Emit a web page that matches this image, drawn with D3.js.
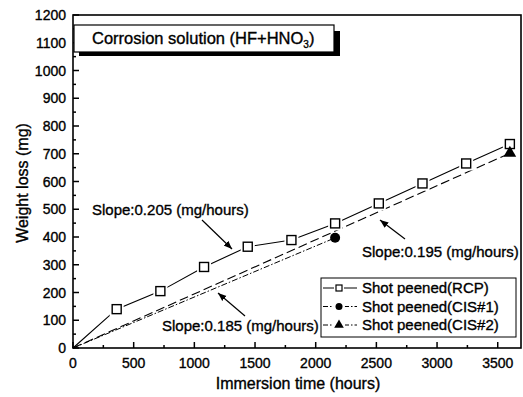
<!DOCTYPE html>
<html>
<head>
<meta charset="utf-8">
<script src="https://cdn.jsdelivr.net/npm/d3@7"></script>
<style>
  body { margin: 0; background: #fff; }
  text { font-family: "Liberation Sans", Arial, sans-serif; fill: #000; stroke: #000; stroke-width: 0.35px; }
</style>
</head>
<body>
<svg id="chart" width="523" height="397"></svg>
<script>
// data
var rcpHours = [0, 360, 720, 1080, 1440, 1800, 2160, 2520, 2880, 3240, 3600];
var rcpLoss  = [0, 140, 205, 292, 365, 389, 449, 521, 593, 665, 735];
var cis1Hours = [0, 2160];
var cis1Loss  = [0, 397];
var cis2Hours = [0, 3600];
var cis2Loss  = [0, 702];

var xTicks = [0, 500, 1000, 1500, 2000, 2500, 3000, 3500];
var yTicks = [0, 100, 200, 300, 400, 500, 600, 700, 800, 900, 1000, 1100, 1200];

var legendNames = ["Shot peened(RCP)", "Shot peened(CIS#1)", "Shot peened(CIS#2)"];
var slopeLabels = ["Slope:0.205 (mg/hours)", "Slope:0.185 (mg/hours)", "Slope:0.195 (mg/hours)"];

var svg = d3.select("#chart");

var x = d3.scaleLinear().domain([0, 3700]).range([73, 522]);
var y = d3.scaleLinear().domain([0, 1200]).range([348, 15]);

function zip(a, b) {
    return a.map(function(v, i) { return {x: v, y: b[i]}; });
}
var rcp = zip(rcpHours, rcpLoss);
var cis1 = zip(cis1Hours, cis1Loss);
var cis2 = zip(cis2Hours, cis2Loss);

var line = d3.line()
    .x(function(d) { return x(d.x); })
    .y(function(d) { return y(d.y); });

// arrow head
svg.append("defs").append("marker")
    .attr("id", "arr")
    .attr("viewBox", "0 0 10 10")
    .attr("refX", 10).attr("refY", 5)
    .attr("markerWidth", 7).attr("markerHeight", 7)
    .attr("orient", "auto")
    .append("path")
    .attr("d", "M0,1 L10,5 L0,9 Z")
    .attr("fill", "#000");

// minor ticks
var xMinor = d3.range(250, 3700, 500);
var yMinor = d3.range(50, 1200, 100);

svg.append("g").selectAll("line.xm")
    .data(xTicks.concat(xMinor))
    .enter().append("line")
    .attr("x1", function(d) { return x(d); })
    .attr("x2", function(d) { return x(d); })
    .attr("y1", y(0))
    .attr("y2", function(d) { return y(0) - (d % 500 == 0 ? 6 : 3); })
    .attr("stroke", "#000").attr("stroke-width", 1.5);

svg.append("g").selectAll("line.ym")
    .data(yTicks.concat(yMinor))
    .enter().append("line")
    .attr("y1", function(d) { return y(d); })
    .attr("y2", function(d) { return y(d); })
    .attr("x1", x(0))
    .attr("x2", function(d) { return x(0) + (d % 100 == 0 ? 6 : 3); })
    .attr("stroke", "#000").attr("stroke-width", 1.5);

// tick labels
svg.append("g").selectAll("text")
    .data(xTicks)
    .enter().append("text")
    .attr("x", function(d) { return x(d); })
    .attr("y", 368)
    .attr("text-anchor", "middle")
    .style("font-size", "14px")
    .text(function(d) { return d; });

svg.append("g").selectAll("text")
    .data(yTicks)
    .enter().append("text")
    .attr("x", 66)
    .attr("y", function(d) { return y(d) + 5; })
    .attr("text-anchor", "end")
    .style("font-size", "14px")
    .text(function(d) { return d; });

// frame
svg.append("rect")
    .attr("x", x(0)).attr("y", y(1200))
    .attr("width", x(3700) - x(0) - 1)
    .attr("height", y(0) - y(1200))
    .attr("fill", "none")
    .attr("stroke", "#000").attr("stroke-width", 1.6);

// series lines
svg.append("path").datum(rcp)
    .attr("d", line).attr("fill", "none")
    .attr("stroke", "#000").attr("stroke-width", 1.1);
svg.append("path").datum(cis1)
    .attr("d", line).attr("fill", "none")
    .attr("stroke", "#000").attr("stroke-width", 1)
    .attr("stroke-dasharray", "6,2,1.5,2");
svg.append("path").datum(cis2)
    .attr("d", line).attr("fill", "none")
    .attr("stroke", "#000").attr("stroke-width", 1.1)
    .attr("stroke-dasharray", "9,4");

// markers with a white gap round them
var sq = svg.append("g").selectAll("g")
    .data(rcp.slice(1))
    .enter().append("g")
    .attr("transform", function(d) { return "translate(" + x(d.x) + "," + y(d.y) + ")"; });
sq.append("rect")
    .attr("x", -7).attr("y", -7).attr("width", 14).attr("height", 14)
    .attr("fill", "#fff");
sq.append("rect")
    .attr("x", -4.5).attr("y", -4.5).attr("width", 9).attr("height", 9)
    .attr("fill", "#fff").attr("stroke", "#000").attr("stroke-width", 1.4);

svg.append("circle")
    .attr("cx", x(cis1[1].x)).attr("cy", y(cis1[1].y))
    .attr("r", 5).attr("fill", "#000");

svg.append("path")
    .attr("transform", "translate(" + x(cis2[1].x) + "," + y(cis2[1].y) + ")")
    .attr("d", d3.symbol().type(d3.symbolTriangle).size(70))
    .attr("fill", "#000");

// slope notes with arrows
var notes = [
    {text: slopeLabels[0], tx: 92, ty: 215, ax1: 202, ay1: 220, ax2: 232, ay2: 249},
    {text: slopeLabels[1], tx: 162, ty: 331, ax1: 245, ay1: 316, ax2: 218, ay2: 293},
    {text: slopeLabels[2], tx: 362, ty: 257, ax1: 405, ay1: 239, ax2: 380, ay2: 220}
];
notes.forEach(function(n) {
    svg.append("text")
        .attr("x", n.tx).attr("y", n.ty)
        .style("font-size", "15px")
        .text(n.text);
    svg.append("line")
        .attr("x1", n.ax1).attr("y1", n.ay1)
        .attr("x2", n.ax2).attr("y2", n.ay2)
        .attr("stroke", "#000").attr("stroke-width", 1.2)
        .attr("marker-end", "url(#arr)");
});

// title box with shadow
svg.append("rect")
    .attr("x", 79).attr("y", 31).attr("width", 261).attr("height", 25)
    .attr("fill", "#000");
svg.append("rect")
    .attr("x", 74).attr("y", 25).attr("width", 260).attr("height", 27)
    .attr("fill", "#fff").attr("stroke", "#000").attr("stroke-width", 1.2);
var title = svg.append("text")
    .attr("x", 92).attr("y", 44)
    .style("font-size", "16.5px");
title.append("tspan").text("Corrosion solution (HF+HNO");
title.append("tspan").attr("dy", 4).style("font-size", "10px").text("3");
title.append("tspan").attr("dy", -4).text(")");

// legend
svg.append("rect")
    .attr("x", 321).attr("y", 278).attr("width", 195).attr("height", 59)
    .attr("fill", "#fff").attr("stroke", "#000").attr("stroke-width", 1);

var legRows = [
    {dash: null, mark: "square"},
    {dash: "5,2,1.5,2", mark: "circle"},
    {dash: "5,2,1.5,2", mark: "triangle"}
];
legRows.forEach(function(r, i) {
    var ly = 288 + i * 18.5;
    svg.append("line")
        .attr("x1", 323).attr("x2", 357)
        .attr("y1", ly).attr("y2", ly)
        .attr("stroke", "#000").attr("stroke-width", 1)
        .attr("stroke-dasharray", r.dash);
    if (r.mark == "square") {
        svg.append("rect").attr("x", 334).attr("y", ly - 5).attr("width", 10).attr("height", 10)
            .attr("fill", "#fff");
        svg.append("rect").attr("x", 336).attr("y", ly - 3).attr("width", 6).attr("height", 6)
            .attr("fill", "#fff").attr("stroke", "#000").attr("stroke-width", 1.2);
    } else if (r.mark == "circle") {
        svg.append("circle").attr("cx", 339).attr("cy", ly).attr("r", 6).attr("fill", "#fff");
        svg.append("circle").attr("cx", 339).attr("cy", ly).attr("r", 3.5).attr("fill", "#000");
    } else {
        svg.append("rect").attr("x", 333).attr("y", ly - 6).attr("width", 12).attr("height", 12)
            .attr("fill", "#fff");
        svg.append("path")
            .attr("transform", "translate(339," + ly + ")")
            .attr("d", d3.symbol().type(d3.symbolTriangle).size(40))
            .attr("fill", "#000");
    }
    svg.append("text")
        .attr("x", 362).attr("y", ly + 5)
        .style("font-size", "15px")
        .text(legendNames[i]);
});

// axis titles
svg.append("text")
    .attr("x", 298).attr("y", 389)
    .attr("text-anchor", "middle")
    .style("font-size", "16px")
    .text("Immersion time (hours)");

svg.append("text")
    .attr("transform", "translate(28,183) rotate(-90)")
    .attr("text-anchor", "middle")
    .style("font-size", "16px")
    .text("Weight loss (mg)");
</script>
</body>
</html>
